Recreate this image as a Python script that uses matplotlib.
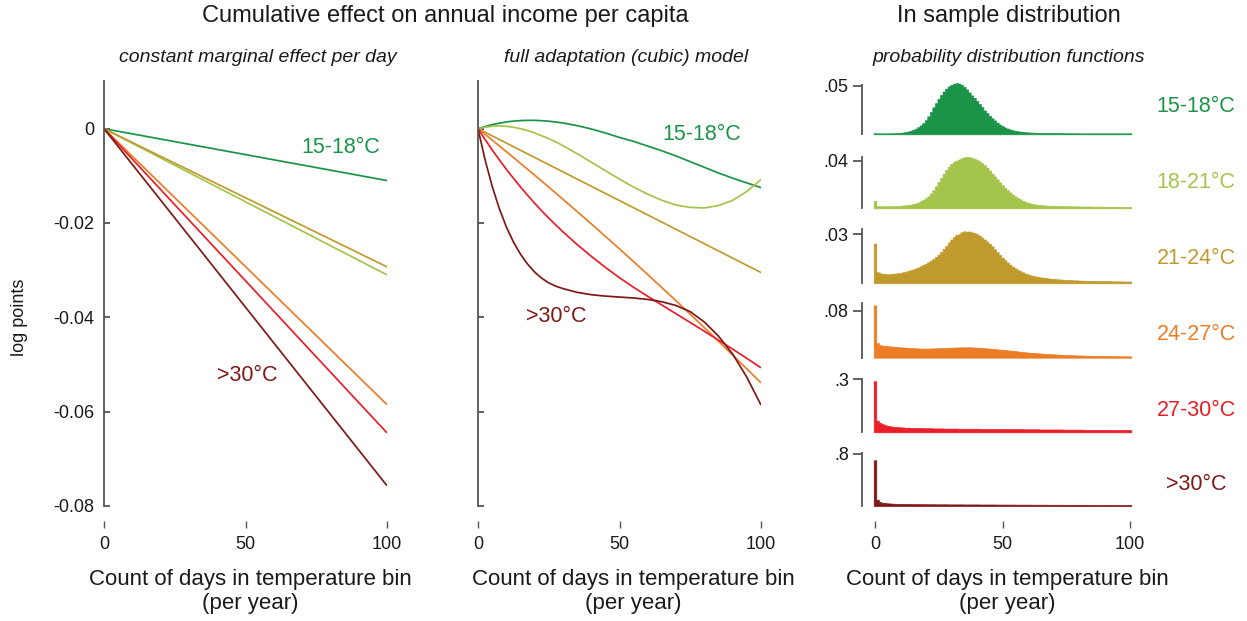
import numpy as np
import matplotlib
matplotlib.use("Agg")
import matplotlib.pyplot as plt

plt.rcParams['font.family'] = ['Liberation Sans', 'DejaVu Sans']

# ---------------------------------------------------------------- data
bins = ['15-18°C', '18-21°C', '21-24°C', '24-27°C', '27-30°C', '>30°C']
bin_colors = ['#1b9449', '#a4c44c', '#c19a2e', '#ec7d26', '#ea1e28', '#7d1916']

# constant marginal effect: cumulative effect (log points) after 0 and 100 days
linear_days = [0, 100]
linear_effect_100 = [-0.0110, -0.0310, -0.0293, -0.0585, -0.0645, -0.0757]

# full adaptation (cubic) model: cumulative effect by day count
cubic_days = [0, 2.5, 5, 7.5, 10, 12.5, 15, 17.5, 20, 22.5, 25, 27.5, 30,
              35, 40, 45, 50, 55, 60, 65, 70, 75, 80, 85, 90, 95, 100]
cubic_15_18 = [0, 0.00045, 0.00085, 0.00116, 0.00142, 0.00160, 0.00171, 0.00176,
               0.00176, 0.00169, 0.00158, 0.00141, 0.00121, 0.00065, -0.00006,
               -0.00091, -0.00186, -0.0027, -0.0037, -0.0047, -0.0058, -0.0070,
               -0.0082, -0.0094, -0.0105, -0.0115, -0.0125]
cubic_18_21 = [0, 0.0003, 0.0005, 0.0006, 0.0005, 0.0003, 0.0000, -0.0004,
               -0.0009, -0.0015, -0.0021, -0.0028, -0.0036, -0.0053, -0.0071,
               -0.0089, -0.0107, -0.0124, -0.0139, -0.0152, -0.0162, -0.0167,
               -0.0168, -0.0163, -0.0152, -0.0133, -0.0108]
cubic_21_24 = [0, -0.00076, -0.00153, -0.00229, -0.00305, -0.00381, -0.00458,
               -0.00534, -0.0061, -0.00686, -0.00763, -0.00839, -0.00915,
               -0.01068, -0.0122, -0.01373, -0.01525, -0.01678, -0.0183,
               -0.01983, -0.02135, -0.02288, -0.0244, -0.02593, -0.02745,
               -0.02898, -0.0305]
cubic_24_27 = [0, -0.0012, -0.00242, -0.00364, -0.00487, -0.0061, -0.00735,
               -0.0086, -0.00985, -0.01112, -0.01239, -0.01367, -0.01495,
               -0.01755, -0.02017, -0.02282, -0.0255, -0.02821, -0.03095,
               -0.03372, -0.03651, -0.03934, -0.04219, -0.04508, -0.04799,
               -0.05093, -0.0539]
cubic_27_30 = [0, -0.00228, -0.0045, -0.00658, -0.0086, -0.0105, -0.01235,
               -0.0141, -0.0158, -0.01742, -0.01895, -0.02043, -0.02185,
               -0.02455, -0.02705, -0.0294, -0.0316, -0.03365, -0.03555,
               -0.0374, -0.03925, -0.0411, -0.04295, -0.04485, -0.04675,
               -0.0487, -0.0507]
cubic_30 = [0, -0.0066, -0.0122, -0.0169, -0.0208, -0.0240, -0.0266, -0.0287,
            -0.0304, -0.0317, -0.0327, -0.0334, -0.0339, -0.0347, -0.0352,
            -0.0355, -0.0357, -0.0359, -0.0362, -0.0367, -0.0375, -0.0388,
            -0.0410, -0.0440, -0.0478, -0.0527, -0.0586]
cubic_curves = [cubic_15_18, cubic_18_21, cubic_21_24, cubic_24_27, cubic_27_30, cubic_30]

# in-sample share of observations by day count (0..100)
hist_days = list(range(101))
pdf_15_18 = [
    0.0012, 0.0010, 0.0010, 0.0010, 0.0010, 0.0010, 0.0011, 0.0011, 0.0012, 0.0013,
    0.0015, 0.0018, 0.0022, 0.0028, 0.0036, 0.0046, 0.0058, 0.0073, 0.0092, 0.0115,
    0.0145, 0.0185, 0.0230, 0.0278, 0.0320, 0.0365, 0.0405, 0.0440, 0.0470, 0.0492,
    0.0508, 0.0520, 0.0526, 0.0522, 0.0510, 0.0490, 0.0462, 0.0430, 0.0400, 0.0375,
    0.0345, 0.0312, 0.0280, 0.0245, 0.0218, 0.0190, 0.0165, 0.0142, 0.0120, 0.0100,
    0.0084, 0.0070, 0.0059, 0.0050, 0.0042, 0.0036, 0.0031, 0.0027, 0.0024, 0.0021,
    0.0019, 0.0018, 0.0017, 0.0016, 0.0015, 0.0014, 0.0014, 0.0013, 0.0013, 0.0013,
    0.0012, 0.0012, 0.0012, 0.0012, 0.0011, 0.0011, 0.0011, 0.0011, 0.0011, 0.0011,
    0.0010, 0.0010, 0.0010, 0.0010, 0.0010, 0.0010, 0.0010, 0.0010, 0.0010, 0.0010,
    0.0010, 0.0010, 0.0010, 0.0010, 0.0010, 0.0010, 0.0010, 0.0010, 0.0010, 0.0010,
    0.0010]
pdf_18_21 = [
    0.0062, 0.0018, 0.0017, 0.0017, 0.0017, 0.0017, 0.0018, 0.0018, 0.0019, 0.0020,
    0.0021, 0.0023, 0.0025, 0.0028, 0.0031, 0.0035, 0.0041, 0.0049, 0.0059, 0.0071,
    0.0085, 0.0101, 0.0125, 0.0152, 0.0185, 0.0220, 0.0255, 0.0290, 0.0322, 0.0350,
    0.0372, 0.0388, 0.0400, 0.0410, 0.0420, 0.0428, 0.0432, 0.0430, 0.0425, 0.0418,
    0.0408, 0.0395, 0.0380, 0.0362, 0.0342, 0.0318, 0.0292, 0.0268, 0.0244, 0.0218,
    0.0195, 0.0172, 0.0152, 0.0133, 0.0116, 0.0100, 0.0087, 0.0075, 0.0064, 0.0055,
    0.0047, 0.0041, 0.0036, 0.0032, 0.0029, 0.0027, 0.0025, 0.0023, 0.0022, 0.0021,
    0.0020, 0.0019, 0.0019, 0.0018, 0.0018, 0.0017, 0.0017, 0.0017, 0.0016, 0.0016,
    0.0016, 0.0015, 0.0015, 0.0015, 0.0015, 0.0014, 0.0014, 0.0014, 0.0014, 0.0014,
    0.0013, 0.0013, 0.0013, 0.0013, 0.0013, 0.0013, 0.0012, 0.0012, 0.0012, 0.0012,
    0.0012]
pdf_21_24 = [
    0.0243, 0.0068, 0.0062, 0.0058, 0.0056, 0.0055, 0.0056, 0.0058, 0.0060, 0.0061,
    0.0063, 0.0067, 0.0071, 0.0075, 0.0080, 0.0085, 0.0091, 0.0097, 0.0104, 0.0112,
    0.0120, 0.0129, 0.0139, 0.0149, 0.0162, 0.0176, 0.0192, 0.0210, 0.0228, 0.0250,
    0.0268, 0.0284, 0.0296, 0.0300, 0.0312, 0.0318, 0.0316, 0.0317, 0.0312, 0.0308,
    0.0302, 0.0292, 0.0280, 0.0268, 0.0255, 0.0242, 0.0226, 0.0208, 0.0190, 0.0173,
    0.0157, 0.0142, 0.0127, 0.0114, 0.0102, 0.0092, 0.0083, 0.0075, 0.0067, 0.0060,
    0.0054, 0.0049, 0.0046, 0.0042, 0.0039, 0.0036, 0.0034, 0.0032, 0.0030, 0.0028,
    0.0026, 0.0025, 0.0024, 0.0023, 0.0022, 0.0021, 0.0020, 0.0019, 0.0018, 0.0018,
    0.0017, 0.0016, 0.0016, 0.0015, 0.0015, 0.0015, 0.0014, 0.0014, 0.0014, 0.0013,
    0.0013, 0.0013, 0.0013, 0.0012, 0.0012, 0.0012, 0.0012, 0.0011, 0.0011, 0.0011,
    0.0011]
pdf_24_27 = [
    0.0890, 0.0250, 0.0215, 0.0205, 0.0200, 0.0196, 0.0192, 0.0188, 0.0184, 0.0180,
    0.0177, 0.0174, 0.0171, 0.0168, 0.0165, 0.0162, 0.0160, 0.0158, 0.0156, 0.0155,
    0.0155, 0.0156, 0.0157, 0.0158, 0.0160, 0.0161, 0.0163, 0.0164, 0.0166, 0.0168,
    0.0170, 0.0172, 0.0174, 0.0175, 0.0176, 0.0177, 0.0177, 0.0176, 0.0175, 0.0173,
    0.0171, 0.0168, 0.0165, 0.0162, 0.0158, 0.0154, 0.0150, 0.0146, 0.0142, 0.0138,
    0.0134, 0.0130, 0.0126, 0.0121, 0.0116, 0.0111, 0.0106, 0.0101, 0.0096, 0.0092,
    0.0088, 0.0084, 0.0080, 0.0077, 0.0074, 0.0071, 0.0068, 0.0065, 0.0062, 0.0060,
    0.0057, 0.0055, 0.0052, 0.0050, 0.0048, 0.0046, 0.0044, 0.0042, 0.0041, 0.0039,
    0.0038, 0.0037, 0.0036, 0.0034, 0.0033, 0.0032, 0.0031, 0.0031, 0.0030, 0.0029,
    0.0028, 0.0028, 0.0027, 0.0027, 0.0026, 0.0026, 0.0025, 0.0025, 0.0024, 0.0024,
    0.0023]
pdf_27_30 = [
    0.289, 0.066, 0.054, 0.046, 0.041, 0.037, 0.034, 0.032, 0.030, 0.029,
    0.028, 0.027, 0.026, 0.026, 0.025, 0.025, 0.024, 0.024, 0.024, 0.023,
    0.023, 0.023, 0.023, 0.022, 0.022, 0.022, 0.022, 0.021, 0.021, 0.021,
    0.021, 0.021, 0.021, 0.020, 0.020, 0.020, 0.020, 0.020, 0.020, 0.020,
    0.020, 0.019, 0.019, 0.019, 0.019, 0.019, 0.019, 0.019, 0.019, 0.019,
    0.019, 0.018, 0.018, 0.018, 0.018, 0.018, 0.018, 0.018, 0.017, 0.017,
    0.017, 0.017, 0.017, 0.017, 0.017, 0.016, 0.016, 0.016, 0.016, 0.016,
    0.016, 0.016, 0.016, 0.016, 0.015, 0.015, 0.015, 0.015, 0.015, 0.015,
    0.015, 0.015, 0.014, 0.014, 0.014, 0.014, 0.014, 0.014, 0.014, 0.014,
    0.014, 0.013, 0.013, 0.013, 0.013, 0.013, 0.013, 0.013, 0.013, 0.013,
    0.013]
pdf_30 = [
    0.703, 0.097, 0.062, 0.050, 0.045, 0.041, 0.038, 0.036, 0.034, 0.033,
    0.032, 0.031, 0.031, 0.030, 0.030, 0.029, 0.029, 0.028, 0.028, 0.028,
    0.027, 0.027, 0.027, 0.027, 0.026, 0.026, 0.026, 0.026, 0.026, 0.025,
    0.025, 0.025, 0.025, 0.025, 0.025, 0.024, 0.024, 0.024, 0.024, 0.024,
    0.024, 0.024, 0.023, 0.023, 0.023, 0.023, 0.023, 0.023, 0.022, 0.022,
    0.022, 0.022, 0.022, 0.022, 0.022, 0.021, 0.021, 0.021, 0.021, 0.021,
    0.021, 0.020, 0.020, 0.020, 0.020, 0.020, 0.020, 0.020, 0.019, 0.019,
    0.019, 0.019, 0.019, 0.019, 0.019, 0.018, 0.018, 0.018, 0.018, 0.018,
    0.018, 0.018, 0.018, 0.018, 0.017, 0.017, 0.017, 0.017, 0.017, 0.017,
    0.017, 0.017, 0.017, 0.016, 0.016, 0.016, 0.016, 0.016, 0.016, 0.016,
    0.016]
pdfs = [pdf_15_18, pdf_18_21, pdf_21_24, pdf_24_27, pdf_27_30, pdf_30]
pdf_ticks = [0.05, 0.04, 0.03, 0.08, 0.3, 0.8]
pdf_ticklabels = ['.05', '.04', '.03', '.08', '.3', '.8']

effect_yticks = [0, -0.02, -0.04, -0.06, -0.08]
effect_yticklabels = ['0', '-0.02', '-0.04', '-0.06', '-0.08']
day_ticks = [0, 50, 100]

# ---------------------------------------------------------------- layout
W, H = 1247, 621
fig = plt.figure(figsize=(W / 100, H / 100), dpi=100)
PT = 72 / 100  # points per pixel

def box(left, top, right, bottom):
    return [left / W, 1 - bottom / H, (right - left) / W, (bottom - top) / H]

def ftext(x, y, s, **kw):
    kw.setdefault('ha', 'center')
    kw.setdefault('va', 'center')
    return fig.text(x / W, 1 - y / H, s, **kw)

spine_color = '#555555'
text_color = '#1a1a1a'


def style_day_axis(ax):
    ax.spines['top'].set_visible(False)
    ax.spines['right'].set_visible(False)
    ax.spines['bottom'].set_position(('outward', 15 * PT))
    ax.spines['bottom'].set_visible(False)
    ax.set_xticks(day_ticks)
    ax.set_xticklabels([str(t) for t in day_ticks])
    ax.tick_params(axis='x', direction='out', length=7 * PT, width=1.0,
                   color=spine_color, labelsize=13, labelcolor=text_color, pad=6)


def style_effect_axis(ax, labels):
    style_day_axis(ax)
    ax.set_xlim(0, 100)
    ax.set_ylim(-0.08, 0.01)
    ax.spines['left'].set_color(spine_color)
    ax.spines['left'].set_linewidth(1.3)
    ax.set_yticks(effect_yticks)
    ax.set_yticklabels(effect_yticklabels if labels else [])
    ax.tick_params(axis='y', direction='in', length=5.5 * PT, width=1.3,
                   color=spine_color, labelsize=13, labelcolor=text_color, pad=7)
    ax.patch.set_visible(False)


# left: constant marginal effect per day
ax1 = fig.add_axes(box(104, 81.5, 387, 506))
for total, col in zip(linear_effect_100, bin_colors):
    ax1.plot(linear_days, [0, total], color=col, lw=1.25, solid_capstyle='butt')
style_effect_axis(ax1, True)
ax1.text(83.7, -0.0039, bins[0], color=bin_colors[0], fontsize=15.5, ha='center', va='center')
ax1.text(50.5, -0.0524, bins[5], color=bin_colors[5], fontsize=15.5, ha='center', va='center')

# middle: full adaptation (cubic) model
ax2 = fig.add_axes(box(478, 81.5, 761, 506))
for curve, col in zip(cubic_curves, bin_colors):
    ax2.plot(cubic_days, curve, color=col, lw=1.25, solid_capstyle='butt',
             solid_joinstyle='round')
style_effect_axis(ax2, False)
ax2.text(79.2, -0.00134, bins[0], color=bin_colors[0], fontsize=15.5, ha='center', va='center')
ax2.text(27.6, -0.0399, bins[5], color=bin_colors[5], fontsize=15.5, ha='center', va='center')

# right: in-sample distributions
hist_base = [134.3, 208.3, 283.3, 357.7, 432.3, 506.0]
hist_top = [85.0, 157.0, 229.3, 303.3, 379.3, 453.3]
tick_px = [85.7, 160.7, 234.3, 310.7, 379.3, 454.0]
label_y = [106.5, 183, 258, 335, 410, 485]
x0_px, px_per_day = 875.0, 2.55
edges = np.arange(-0.5, 101.0, 1.0)
for i, (vals, col) in enumerate(zip(pdfs, bin_colors)):
    b, t = hist_base[i], hist_top[i]
    ax = fig.add_axes(box(x0_px - 0.5 * px_per_day, t, x0_px + 100.5 * px_per_day, b))
    heights = list(vals) + [vals[-1]]
    poly = ax.fill_between(edges, 0, heights, step='post', facecolor=col, edgecolor=col,
                           linewidth=0.5, clip_on=False)
    poly.set_snap(False)
    ax.set_xlim(-0.5, 100.5)
    # the axis top sits where this panel's tick value falls on its scale
    ax.set_ylim(0, pdf_ticks[i] * (b - t) / (b - tick_px[i]))
    ax.spines['top'].set_visible(False)
    ax.spines['right'].set_visible(False)
    ax.spines['left'].set_position(('outward', 11.7 * PT))
    ax.spines['left'].set_color(spine_color)
    ax.spines['left'].set_linewidth(1.3)
    ax.set_yticks([pdf_ticks[i]])
    ax.set_yticklabels([pdf_ticklabels[i]])
    ax.tick_params(axis='y', direction='out', length=9 * PT, width=1.3,
                   color=spine_color, labelsize=13, labelcolor=text_color, pad=3)
    ax.patch.set_visible(False)
    if i == len(pdfs) - 1:
        style_day_axis(ax)
    else:
        ax.spines['bottom'].set_visible(False)
        ax.set_xticks([])
    ftext(1196, label_y[i], bins[i], color=col, fontsize=15.5)

# titles and axis labels
ftext(445, 16, 'Cumulative effect on annual income per capita', fontsize=17, color=text_color)
ftext(1009, 16, 'In sample distribution', fontsize=17, color=text_color)
ftext(258, 57, 'constant marginal effect per day', fontsize=14, style='italic', color=text_color)
ftext(626, 57, 'full adaptation (cubic) model', fontsize=14, style='italic', color=text_color)
ftext(1009, 57, 'probability distribution functions', fontsize=14, style='italic', color=text_color)
for cx in (250, 633, 1007):
    ftext(cx, 591.5, 'Count of days in temperature bin\n(per year)', fontsize=16,
          color=text_color, linespacing=1.2)
ftext(20, 317, 'log points', fontsize=13, rotation=90, color=text_color)

fig.savefig('out.png', dpi=100)
